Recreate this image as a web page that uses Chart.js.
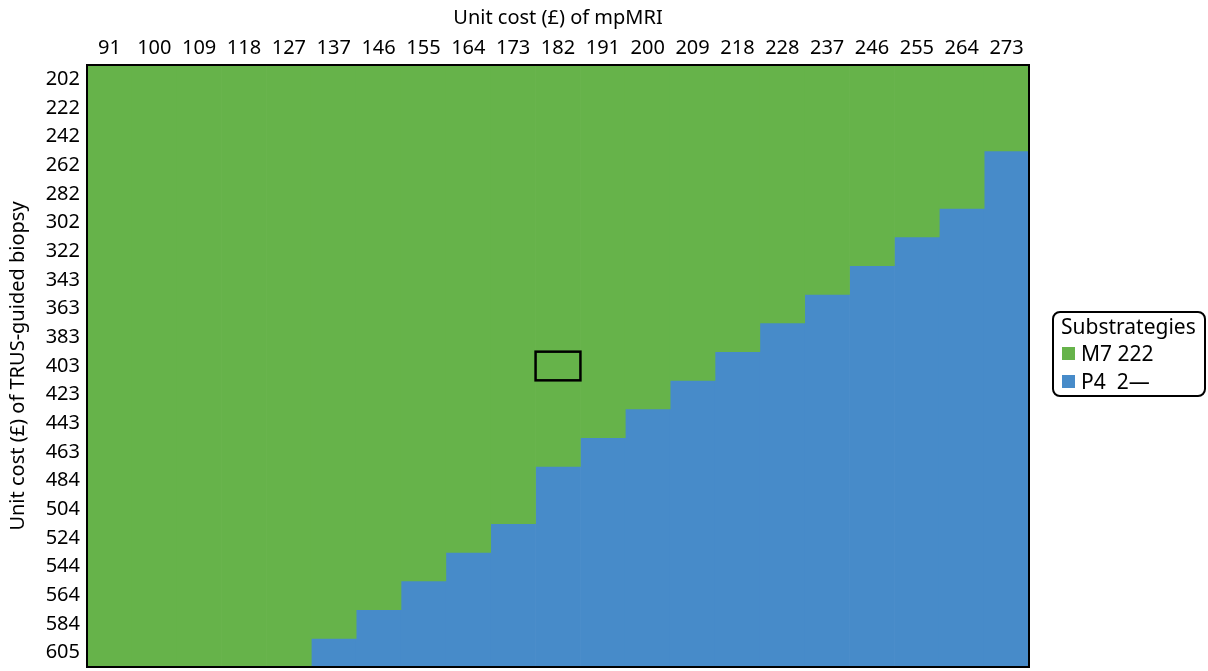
<!DOCTYPE html>
<html>
<head>
<meta charset="utf-8">
<script src="https://cdn.jsdelivr.net/npm/chart.js@4/dist/chart.umd.min.js"></script>
<style>
  html, body { margin: 0; padding: 0; background: #fff; }
  #wrap { position: relative; width: 1208px; height: 671px; }
  #legend {
    position: absolute; left: 1052px; top: 311px; width: 150px; height: 82px;
    border: 2px solid #000; border-radius: 8px;
    font-family: "Noto Sans", sans-serif; font-size: 21px; line-height: 24px; color: #000;
    box-sizing: content-box;
  }
  #legend .title { position: absolute; left: 7px; top: 1px; }
  #legend .item { position: absolute; left: 8px; display: flex; align-items: center; }
  #legend .swatch { width: 13px; height: 13px; margin-right: 6px; }
</style>
</head>
<body>
<div id="wrap">
  <canvas id="heat" width="1208" height="671"></canvas>
  <div id="legend"></div>
</div>
<script>
// columns: unit cost of mpMRI
const mriCosts = [91, 100, 109, 118, 127, 137, 146, 155, 164, 173, 182, 191, 200, 209, 218, 228, 237, 246, 255, 264, 273]
// rows: unit cost of TRUS-guided biopsy
const biopsyCosts = [202, 222, 242, 262, 282, 302, 322, 343, 363, 383, 403, 423, 443, 463, 484, 504, 524, 544, 564, 584, 605]
// biopsy cost from which P4 is optimal, per mpMRI cost column (null = M7 everywhere)
const p4FromBiopsy = [null, null, null, null, null, 605, 584, 564, 544, 524, 484, 463, 443, 423, 403, 383, 363, 343, 322, 302, 262]
const strategies = ["M7 222", "P4  2\u2014"]
const strategyColors = ["#66B34A", "#478BC9"]
// base case cell
const baseMri = 182
const baseBiopsy = 403

const nRows = biopsyCosts.length
const gridTop = -0.5
const gridBottom = nRows - 0.5

const firstP4Row = p4FromBiopsy.map(v => v === null ? nRows : biopsyCosts.indexOf(v))
const m7Bars = firstP4Row.map(r => r > 0 ? [gridTop, r - 0.5] : null)
const p4Bars = firstP4Row.map(r => r < nRows ? [r - 0.5, gridBottom] : null)

const fontFamily = "'Noto Sans', sans-serif"

const frame = {
  id: "frame",
  afterDatasetsDraw(chart) {
    const { ctx, chartArea, scales } = chart
    ctx.save()
    // base case highlight
    const col = mriCosts.indexOf(baseMri)
    const row = biopsyCosts.indexOf(baseBiopsy)
    const x0 = scales.x.getPixelForValue(col - 0.5)
    const x1 = scales.x.getPixelForValue(col + 0.5)
    const y0 = scales.y.getPixelForValue(row - 0.5)
    const y1 = scales.y.getPixelForValue(row + 0.5)
    ctx.strokeStyle = "#000"
    ctx.lineWidth = 2.5
    ctx.strokeRect(x0, y0, x1 - x0, y1 - y0)
    // plot border
    ctx.lineWidth = 2
    ctx.strokeRect(chartArea.left, chartArea.top, chartArea.right - chartArea.left, chartArea.bottom - chartArea.top)
    ctx.restore()
  }
}

new Chart(document.getElementById("heat").getContext("2d"), {
  type: "bar",
  data: {
    labels: mriCosts,
    datasets: [
      { label: strategies[0], data: m7Bars, backgroundColor: strategyColors[0], borderWidth: 0, grouped: false, barPercentage: 1, categoryPercentage: 1 },
      { label: strategies[1], data: p4Bars, backgroundColor: strategyColors[1], borderWidth: 0, grouped: false, barPercentage: 1, categoryPercentage: 1 }
    ]
  },
  options: {
    responsive: false,
    animation: false,
    layout: { padding: { left: 0, right: 179, top: 0, bottom: 4 } },
    plugins: { legend: { display: false }, tooltip: { enabled: false } },
    scales: {
      x: {
        position: "top",
        grid: { display: false, drawTicks: false },
        border: { display: false },
        ticks: { color: "#000", font: { family: fontFamily, size: 20 }, padding: 5, maxRotation: 0, autoSkip: false },
        title: { display: true, text: "Unit cost (\u00a3) of mpMRI", color: "#000", font: { family: fontFamily, size: 20 }, padding: { top: 6, bottom: 0 } },
        afterFit(scale) { scale.height = 65; scale.paddingLeft = 0; scale.paddingRight = 0 }
      },
      y: {
        type: "linear",
        reverse: true,
        min: gridTop,
        max: gridBottom,
        grid: { display: false, drawTicks: false },
        border: { display: false },
        afterBuildTicks(scale) { scale.ticks = biopsyCosts.map((_, i) => ({ value: i })) },
        ticks: {
          color: "#000", font: { family: fontFamily, size: 20 }, padding: 7, autoSkip: false,
          callback: v => biopsyCosts[v]
        },
        title: { display: true, text: "Unit cost (\u00a3) of TRUS-guided biopsy", color: "#000", font: { family: fontFamily, size: 20 }, padding: { top: 6, bottom: 0 } },
        afterFit(scale) { scale.width = 87; scale.paddingTop = 0; scale.paddingBottom = 0 }
      }
    }
  },
  plugins: [frame]
})

// legend
const legend = document.getElementById("legend")
legend.innerHTML = '<div class="title">Substrategies</div>' +
  strategies.map((s, i) =>
    `<div class="item" style="top:${28 + i * 28}px"><span class="swatch" style="background:${strategyColors[i]}"></span><span>${s.replace(/ /g, "&nbsp;")}</span></div>`
  ).join("")
</script>
</body>
</html>
